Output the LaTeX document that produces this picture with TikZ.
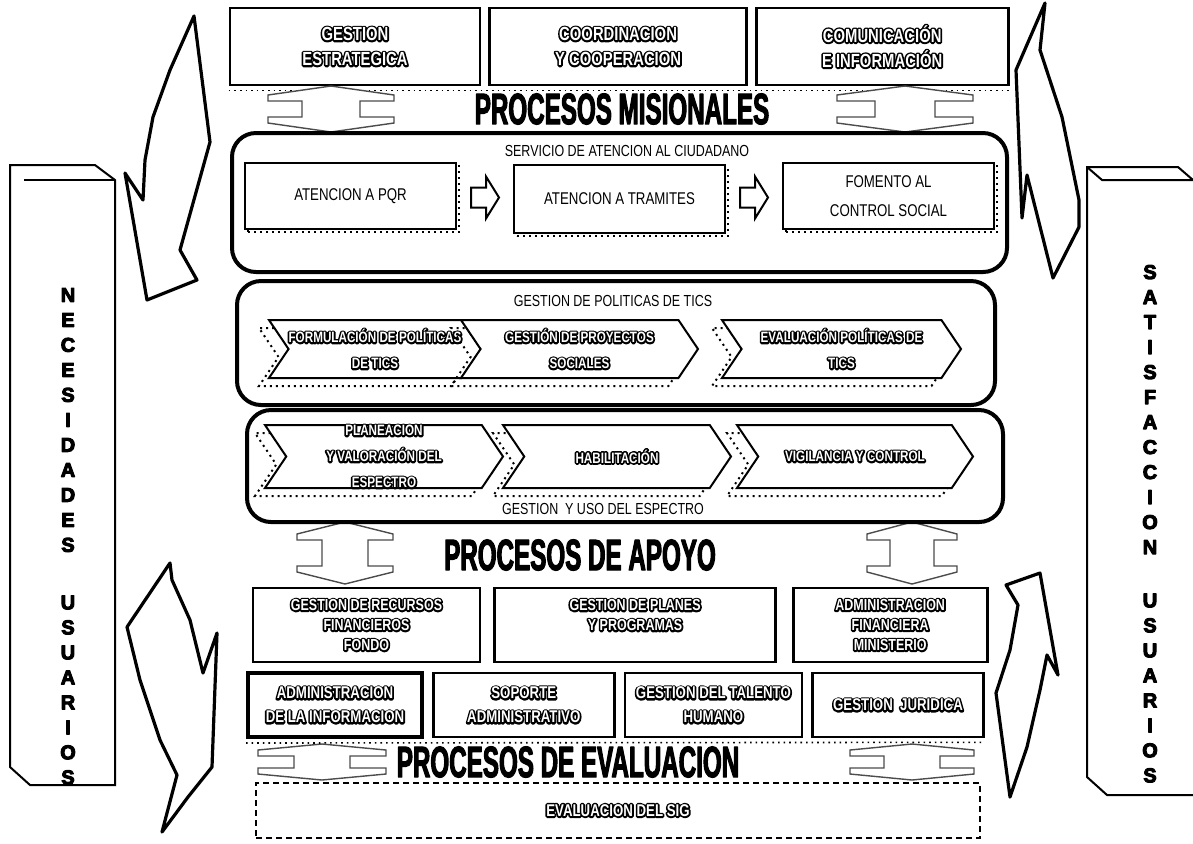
\documentclass[tikz,border=0pt]{standalone}
\usepackage{fontspec}
\setmainfont{Liberation Sans}
\newfontfamily\narrowfont{Liberation Sans}[FakeStretch=0.78]
\newfontfamily\headfont{Liberation Sans}[FakeStretch=0.55]
\usetikzlibrary{shapes,arrows,positioning,shadows,calc}
% outlined letters: thick black stroke under white letters
\newcommand{\olt}[1]{\rlap{\special{pdf:literal direct 1 Tr 1.7 w 1 j}#1\special{pdf:literal direct 0 Tr}}\textcolor{white}{#1}}
% heavier letters: fill and stroke
\newcommand{\heavy}[1]{\special{pdf:literal direct 2 Tr 0.5 w 1 j}#1\special{pdf:literal direct 0 Tr}}
\tikzstyle{outbox} = [draw, line width=1.3pt, inner sep=0pt, align=center, font=\narrowfont\bfseries\fontsize{9.5}{12.5}\selectfont]
\tikzstyle{supbox} = [outbox, minimum height=37pt, font=\narrowfont\bfseries\fontsize{8}{10}\selectfont]
\tikzstyle{lowbox} = [outbox, minimum height=32pt, font=\narrowfont\bfseries\fontsize{8.5}{12}\selectfont]
\tikzstyle{inbox} = [draw, fill=white, line width=1pt, inner sep=0pt, align=center, minimum width=105.5pt, minimum height=33pt, font=\narrowfont\fontsize{8.5}{14.5}\selectfont, copy shadow={shadow xshift=1.5pt, shadow yshift=-1.5pt, dotted, fill=none}]
\tikzstyle{group} = [draw, line width=2pt, rounded corners=12pt, inner sep=0pt]
\tikzstyle{chevron} = [signal, signal to=east, signal from=west, signal pointer angle=112, draw, line width=1pt, fill=white, inner sep=0pt, align=center, font=\narrowfont\bfseries\fontsize{7.5}{13}\selectfont, copy shadow={shadow xshift=-5pt, shadow yshift=-4pt, dotted, fill=none}]
\tikzstyle{plain} = [inner sep=0pt, font=\narrowfont\fontsize{8}{9}\selectfont]
\tikzstyle{heading} = [inner sep=0pt, font=\headfont\bfseries\fontsize{22}{22}\selectfont]
\tikzstyle{hollow} = [draw=black!70, line width=0.7pt, fill=white]
\tikzstyle{hollowbold} = [draw, line width=1pt, fill=white]
\tikzstyle{bigarrow} = [draw, line width=1.6pt, fill=white, line join=round]
\tikzstyle{pillar} = [draw, line width=1pt]
\tikzstyle{letters} = [inner sep=0pt, align=center, font=\bfseries\fontsize{10}{12.5}\selectfont]

\begin{document}
\begin{tikzpicture}[x=0.5pt, y=-0.5pt]
    \useasboundingbox (0,0) rectangle (1193,843);

    % Side pillars
    \draw[pillar] (10,165) -- (95,165) -- (115,180) -- (115,785) -- (30,785) -- (10,767) -- cycle;
    \draw[pillar] (24,180) -- (115,180);
    \draw[pillar] (1193,180) -- (1178,167) -- (1087,167) -- (1087,777) -- (1107,795) -- (1193,795);
    \draw[pillar] (1087,167) -- (1102,180) -- (1193,180);
    \node[letters] (necesidades) at (68,420) {\heavy{N\\E\\C\\E\\S\\I\\D\\A\\D\\E\\S}};
    \node[letters] (usuariosizq) at (68,690) {\heavy{U\\S\\U\\A\\R\\I\\O\\S}};
    \node[letters] (satisfaccion) at (1150,409.5) {\heavy{S\\A\\T\\I\\S\\F\\A\\C\\C\\I\\O\\N}};
    \node[letters] (usuariosder) at (1150,688) {\heavy{U\\S\\U\\A\\R\\I\\O\\S}};

    % Curved side arrows
    \draw[bigarrow] (194,16) -- (170,70) -- (153,117) -- (145,160) -- (143,200) -- (125,173) -- (147,300) -- (197,280) -- (180,250) -- (210,142) -- cycle;
    \draw[bigarrow] (170,563) -- (127,627) -- (140,680) -- (160,740) -- (177,775) -- (162,832) -- (188,797) -- (212,767) -- (217,633) -- (203,673) -- (190,620) -- (172,580) -- cycle;
    \draw[bigarrow] (1045,3) -- (1016,70) -- (1022,218) -- (1027,175) -- (1053,278) -- (1079,227) -- (1079,200) -- (1062,117) -- (1040,50) -- cycle;
    \draw[bigarrow] (1006,585) -- (1040,573) -- (1058,675) -- (1047,655) -- (1040,690) -- (1027,747) -- (1010,797) -- (996,693) -- (1010,650) -- (1018,605) -- cycle;

    % Top row
    \node[outbox, minimum width=125pt, minimum height=38.5pt] (estrategica) at (355,46.5) {\olt{GESTION}\\\olt{ESTRATEGICA}};
    \node[outbox, minimum width=128.5pt, minimum height=38.5pt, right=3.5pt of estrategica] (coordinacion) {\olt{COORDINACION}\\\olt{Y COOPERACION}};
    \node[outbox, minimum width=126pt, minimum height=38.5pt, right=3.5pt of coordinacion] (comunicacion) {\olt{COMUNICACIÓN}\\\olt{E INFORMACIÓN}};
    \draw[dotted, thick] ([yshift=-2pt]estrategica.south west) -- ([yshift=-2pt]comunicacion.south east);

    % Headings and double arrows
    \node[heading] (misionales) at (622,109) {\heavy{PROCESOS MISIONALES}};
    \node[heading] (apoyo) at (580,555) {\heavy{PROCESOS DE APOYO}};
    \node[heading] (evaluacion) at (568,762) {\heavy{PROCESOS DE EVALUACION}};
    \foreach \cx/\cy/\hw/\sw/\hh/\hd in {331/109/63/29/23/9, 905/109/68/30/23/9, 345/553/48/23/31/12, 912/553/45/22/31/12, 322/762/64/28/18/6, 912/762/62/28/18/6}
        \draw[hollow] (\cx,\cy) ++(0,-\hh) -- ++(-\hw,\hd) -- ++(0,6) -- ++({\hw-\sw},0) -- ++(0,{2*\hh-2*\hd-12}) -- ++({\sw-\hw},0) -- ++(0,6) -- ++(\hw,\hd) -- ++(\hw,-\hd) -- ++(0,-6) -- ++({\sw-\hw},0) -- ++(0,{-2*\hh+2*\hd+12}) -- ++({\hw-\sw},0) -- ++(0,-6) -- cycle;

    % Servicio al ciudadano
    \node[group, minimum width=387.5pt, minimum height=69.5pt] (servicio) at (619.5,202.5) {};
    \node[plain] (serviciotitulo) at (627,151) {SERVICIO DE ATENCION AL CIUDADANO};
    \node[inbox] (pqr) at (350.5,196) {ATENCION A PQR};
    \node[inbox, minimum height=34pt] (tramites) at (619.5,199) {ATENCION A TRAMITES};
    \node[inbox] (fomento) at (888.5,196) {FOMENTO AL\\CONTROL SOCIAL};
    \foreach \a/\b in {pqr/tramites, tramites/fomento}
        \draw[hollowbold] ($(\a.east)!0.5!(\b.west)$) ++(-14,-10) -- ++(15,0) -- ++(0,-11) -- ++(13,21) -- ++(-13,21) -- ++(0,-11) -- ++(-15,0) -- cycle;

    % Politicas de TICs
    \node[group, minimum width=379pt, minimum height=62pt] (politicas) at (616,343) {};
    \node[plain] (politicastitulo) at (613,301) {GESTION DE POLITICAS DE TICS};
    \node[chevron, minimum width=101pt, minimum height=29pt] (formulacion) at (375,349) {\olt{FORMULACIÓN DE POLÍTICAS}\\\olt{DE TICS}};
    \node[chevron, minimum width=118.5pt, minimum height=29pt] (proyectos) at (579.5,349) {\olt{GESTIÓN DE PROYECTOS}\\\olt{SOCIALES}};
    \node[chevron, minimum width=119.5pt, minimum height=29pt] (evaluacionpol) at (841.5,349) {\olt{EVALUACIÓN POLÍTICAS DE}\\\olt{TICS}};

    % Gestion del espectro
    \node[group, minimum width=378pt, minimum height=56pt] (espectro) at (625,466) {};
    \node[chevron, minimum width=119pt, minimum height=31.5pt] (planeacion) at (384,456.5) {\olt{PLANEACION}\\\olt{Y VALORACIÓN DEL}\\\olt{ESPECTRO}};
    \node[chevron, minimum width=114pt, minimum height=31.5pt] (habilitacion) at (617,456.5) {\olt{HABILITACIÓN}};
    \node[chevron, minimum width=118pt, minimum height=31.5pt] (vigilancia) at (855,456.5) {\olt{VIGILANCIA Y CONTROL}};
    \node[plain] (espectrotitulo) at (603,509) {GESTION\ \ Y USO DEL ESPECTRO};

    % Apoyo
    \node[supbox, minimum width=113.5pt] (recursos) at (366.5,625) {\olt{GESTION DE RECURSOS}\\\olt{FINANCIEROS}\\\olt{FONDO}};
    \node[supbox, minimum width=140.5pt, right=6pt of recursos] (planes) {\olt{GESTION DE PLANES}\\\olt{Y PROGRAMAS}\\\mbox{}};
    \node[supbox, minimum width=97pt, right=7.5pt of planes] (financiera) {\olt{ADMINISTRACION}\\\olt{FINANCIERA}\\\olt{MINISTERIO}};

    \node[lowbox, minimum width=87pt, line width=2pt] (informacion) at (335,705) {\olt{ADMINISTRACION}\\\olt{DE LA INFORMACION}};
    \node[lowbox, minimum width=90.5pt, right=4pt of informacion] (soporte) {\olt{SOPORTE}\\\olt{ADMINISTRATIVO}};
    \node[lowbox, minimum width=88.5pt, right=4pt of soporte] (talento) {\olt{GESTION\ DEL TALENTO}\\\olt{HUMANO}};
    \node[lowbox, minimum width=85.5pt, right=4pt of talento] (juridica) {\olt{GESTION\ \ JURIDICA}};
    \draw[dotted, thick] ([yshift=-2pt]informacion.south west) -- ([yshift=-2pt]juridica.south east);

    % Evaluacion
    \node[outbox, minimum width=362pt, minimum height=27.5pt, densely dashed, font=\narrowfont\bfseries\fontsize{8.5}{10}\selectfont] (sig) at (618,810.5) {\olt{EVALUACION DEL SIG}};
\end{tikzpicture}
\end{document}
